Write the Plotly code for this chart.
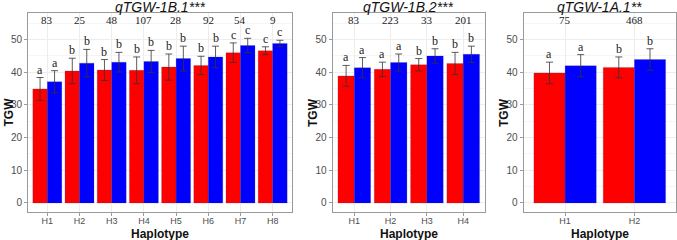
import plotly.graph_objects as go

W, H = 677, 240

# ---- data ----
p1_cats = ["H1", "H2", "H3", "H4", "H5", "H6", "H7", "H8"]
p1_red = [34.9, 40.4, 40.7, 40.6, 41.6, 42.1, 46.0, 46.6]
p1_red_err = [3.5, 3.9, 3.2, 4.1, 4.0, 2.8, 3.0, 1.2]
p1_blue = [37.1, 42.8, 43.1, 43.3, 44.2, 44.7, 48.2, 48.8]
p1_blue_err = [3.4, 4.2, 3.0, 3.4, 3.8, 3.3, 2.2, 1.0]
p1_red_let = ["a", "b", "b", "b", "b", "b", "c", "c"]
p1_blue_let = ["a", "b", "b", "b", "b", "b", "c", "c"]
p1_counts = ["83", "25", "48", "107", "28", "92", "54", "9"]
p1_title = "qTGW-1B.1***"

p2_cats = ["H1", "H2", "H3", "H4"]
p2_red = [38.9, 40.9, 42.3, 42.7]
p2_red_err = [3.2, 2.2, 1.9, 3.4]
p2_blue = [41.4, 43.0, 45.0, 45.5]
p2_blue_err = [3.1, 2.6, 2.2, 2.5]
p2_red_let = ["a", "a", "b", "b"]
p2_blue_let = ["a", "a", "b", "b"]
p2_counts = ["83", "223", "33", "201"]
p2_title = "qTGW-1B.2***"

p3_cats = ["H1", "H2"]
p3_red = [39.8, 41.5]
p3_red_err = [3.3, 3.2]
p3_blue = [42.0, 43.9]
p3_blue_err = [3.4, 3.3]
p3_red_let = ["a", "b"]
p3_blue_let = ["a", "b"]
p3_counts = ["75", "468"]
p3_title = "qTGW-1A.1**"

count_y = 56
y_ticks = [0, 10, 20, 30, 40, 50]

panels = [
    (p1_cats, p1_red, p1_red_err, p1_blue, p1_blue_err, p1_red_let, p1_blue_let, p1_counts, p1_title, (28, 292)),
    (p2_cats, p2_red, p2_red_err, p2_blue, p2_blue_err, p2_red_let, p2_blue_let, p2_counts, p2_title, (332.5, 485)),
    (p3_cats, p3_red, p3_red_err, p3_blue, p3_blue_err, p3_red_let, p3_blue_let, p3_counts, p3_title, (523.5, 676)),
]

RED = "#FF0000"
BLUE = "#0000FF"
SANS = "Liberation Sans"
SERIF = "Liberation Serif"

top_px, bot_px = 13, 212
ydom = [1 - bot_px / H, 1 - top_px / H]
yrange = [-2.77, 58.15]

fig = go.Figure()
annotations = []
layout = {}

for i, (cats, red, rerr, blue, berr, rlet, blet, counts, title, (x0, x1)) in enumerate(panels):
    k = "" if i == 0 else str(i + 1)
    xa, ya = "x" + k, "y" + k
    n = len(cats)
    errstyle = dict(type="data", visible=True, color="#333333", thickness=0.8, width=3.5)
    barline = dict(color="rgba(60,60,90,0.35)", width=0.6)
    fig.add_trace(go.Bar(x=cats, y=red, xaxis=xa, yaxis=ya, marker=dict(color=RED, line=barline),
                         error_y=dict(array=rerr, **errstyle), showlegend=False, hoverinfo="skip"))
    fig.add_trace(go.Bar(x=cats, y=blue, xaxis=xa, yaxis=ya, marker=dict(color=BLUE, line=barline),
                         error_y=dict(array=berr, **errstyle), showlegend=False, hoverinfo="skip"))
    layout["xaxis" + k] = dict(
        domain=[x0 / W, x1 / W], anchor=ya, type="category", range=[-0.6, n - 0.4],
        showline=True, mirror=True, linecolor="#9A9A9A", linewidth=1,
        showgrid=True, gridcolor="#EDEDED", gridwidth=0.8,
        ticks="outside", ticklen=3, tickcolor="#9A9A9A", ticklabelstandoff=-3,
        tickfont=dict(family=SANS, size=9, color="#4D4D4D"), zeroline=False, fixedrange=True,
        automargin=False,
    )
    layout["yaxis" + k] = dict(
        domain=ydom, anchor=xa, range=yrange, tickvals=y_ticks,
        showline=True, mirror=True, linecolor="#9A9A9A", linewidth=1,
        showgrid=True, gridcolor="#EDEDED", gridwidth=0.8,
        minor=dict(dtick=5, showgrid=True, gridcolor="#F5F5F5", gridwidth=0.5, tick0=5),
        ticks="outside", ticklen=3, tickcolor="#9A9A9A",
        tickfont=dict(family=SANS, size=10, color="#4D4D4D"), zeroline=False, fixedrange=True,
        automargin=False,
    )
    for j in range(n):
        annotations.append(dict(x=j - 0.225, y=red[j] + rerr[j], xref=xa, yref=ya, text=rlet[j], showarrow=False,
                                yanchor="bottom", yshift=-1, font=dict(family=SERIF, size=12, color="#222222")))
        annotations.append(dict(x=j + 0.225, y=blue[j] + berr[j], xref=xa, yref=ya, text=blet[j], showarrow=False,
                                yanchor="bottom", yshift=-1, font=dict(family=SERIF, size=12, color="#222222")))
        annotations.append(dict(x=j, y=count_y, xref=xa, yref=ya, text=counts[j], showarrow=False,
                                yanchor="middle", font=dict(family=SERIF, size=11, color="#222222")))
    cx = (x0 + x1) / 2 / W
    annotations.append(dict(x=cx, y=1 - 6.5 / H, xref="paper", yref="paper", text="<i>" + title + "</i>",
                            showarrow=False, yanchor="middle", xanchor="center",
                            font=dict(family=SANS, size=14, color="#111111")))
    annotations.append(dict(x=cx, y=1 - 234 / H, xref="paper", yref="paper", text="<b>Haplotype</b>",
                            showarrow=False, yanchor="middle", xanchor="center",
                            font=dict(family=SANS, size=12, color="#111111")))
    annotations.append(dict(x=(x0 - 20) / W, y=sum(ydom) / 2, xref="paper", yref="paper", text="<b>TGW</b>",
                            showarrow=False, textangle=-90, yanchor="middle", xanchor="center",
                            font=dict(family=SANS, size=12, color="#111111")))

fig.update_layout(
    width=W, height=H, margin=dict(l=0, r=0, t=0, b=0),
    paper_bgcolor="white", plot_bgcolor="white",
    barmode="group", bargap=0.1, bargroupgap=0.0, hovermode=False,
    annotations=annotations, **layout,
)

fig.write_html("out.html", config={"displayModeBar": False},
               post_script="document.body.style.margin='0';")
